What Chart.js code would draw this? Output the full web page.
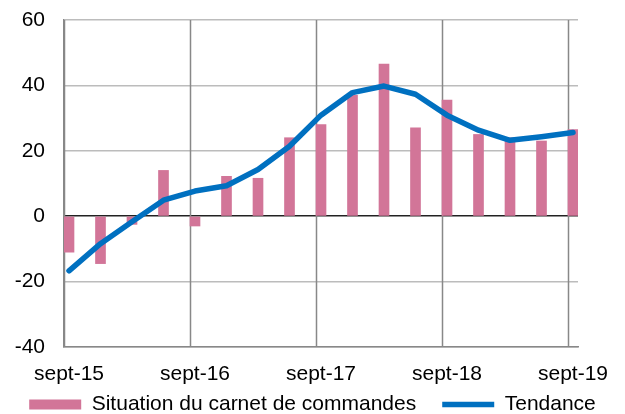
<!DOCTYPE html>
<html>
<head>
<meta charset="utf-8">
<script src="https://cdn.jsdelivr.net/npm/chart.js@4"></script>
<style>
  body { margin: 0; background: #fff; }
</style>
</head>
<body>
<canvas id="chart" width="625" height="414"></canvas>
<script>
// Quarterly points, sept-15 .. sept-19
const quarters = ['sept-15', 'déc-15', 'mars-16', 'juin-16', 'sept-16', 'déc-16', 'mars-17', 'juin-17',
  'sept-17', 'déc-17', 'mars-18', 'juin-18', 'sept-18', 'déc-18', 'mars-19', 'juin-19', 'sept-19'];
const carnet = [-11, -14.5, -2.5, 14, -3, 12.2, 11.6, 24, 28, 37, 46.5, 27, 35.5, 25, 24, 23, 26.5];
const tendance = [-16.7, -8.4, -1.7, 4.9, 7.7, 9.3, 14.3, 21.4, 30.9, 37.8, 39.8, 37.3, 30.9, 26.3, 23.2, 24.3, 25.6];
const tickIdx = [0, 4, 8, 12, 16];
const yTicks = [-40, -20, 0, 20, 40, 60];

const PINK = '#D27598';
const BLUE = '#0070C0';
const FONT = { family: '"Liberation Sans", Arial, sans-serif', size: 21 };
const EDGE = 0.1587; // plot extends half a bar past first/last point
const LEGEND_PAD = 26;

// Year gridlines sit on the left edge of each September bar
const yearGrid = {
  id: 'yearGrid',
  beforeDatasetsDraw(chart) {
    const { ctx, chartArea, scales } = chart;
    ctx.save();
    ctx.strokeStyle = '#888';
    ctx.lineWidth = 1.5;
    tickIdx.forEach(i => {
      const x = Math.round(scales.x.getPixelForValue(i - EDGE)) + 0.5;
      ctx.beginPath();
      ctx.moveTo(x, chartArea.top);
      ctx.lineTo(x, chartArea.bottom);
      ctx.stroke();
    });
    ctx.restore();
  }
};

// Keep the legend's wide horizontal spacing but give it a short reserved strip
const legendStrip = {
  id: 'legendStrip',
  beforeLayout(chart) {
    const lg = chart.legend;
    if (!lg || lg._strip) return;
    const fit = lg.fit;
    lg.fit = function () { fit.call(this); this.height = 26; };
    lg._strip = true;
  },
  afterLayout(chart) {
    const lg = chart.legend;
    lg.top = 403 - LEGEND_PAD - 9;
    lg.bottom = chart.height;
    lg.height = lg.bottom - lg.top;
  }
};

const flatPad = axis => { axis.paddingTop = 0; axis.paddingBottom = 0; };

new Chart(document.getElementById('chart'), {
  data: {
    datasets: [
      {
        type: 'bar',
        label: 'Situation du carnet de commandes',
        data: carnet.map((v, i) => ({ x: i, y: v })),
        backgroundColor: PINK,
        borderWidth: 0,
        barThickness: 10,
        pointStyle: 'rect',
        order: 1
      },
      {
        type: 'line',
        label: 'Tendance',
        data: tendance.map((v, i) => ({ x: i, y: v })),
        borderColor: BLUE,
        backgroundColor: BLUE,
        borderWidth: 5.5,
        borderCapStyle: 'round',
        borderJoinStyle: 'round',
        pointRadius: 0,
        pointStyle: 'line',
        tension: 0,
        order: 0
      }
    ]
  },
  options: {
    responsive: false,
    animation: false,
    layout: { padding: { left: 0, top: 20, right: 0, bottom: 0 } },
    scales: {
      x: {
        type: 'linear',
        offset: false,
        min: -EDGE,
        max: quarters.length - 1 + EDGE,
        afterBuildTicks: axis => { axis.ticks = tickIdx.map(v => ({ value: v })); },
        afterFit: axis => { axis.height = 41; },
        ticks: {
          font: FONT,
          color: '#000',
          padding: 15,
          maxRotation: 0,
          autoSkip: false,
          callback: v => quarters[v]
        },
        grid: { display: false, offset: false, drawTicks: false },
        border: { color: '#888', width: 1.5 }
      },
      y: {
        min: -40,
        max: 60,
        afterBuildTicks: axis => { axis.ticks = yTicks.map(v => ({ value: v })); },
        afterFit: axis => { axis.width = 64; flatPad(axis); },
        ticks: { font: FONT, color: '#000', padding: 19 },
        grid: {
          drawTicks: false,
          color: c => c.tick.value === 0 ? '#222' : '#bcbcbc',
          lineWidth: 1.5
        },
        border: { color: '#888', width: 1.5 }
      },
      // empty right-hand axis, only reserves the margin right of the plot
      yr: {
        position: 'right',
        afterFit: axis => { axis.width = 47; flatPad(axis); },
        ticks: { display: false },
        grid: { display: false },
        border: { display: false }
      }
    },
    plugins: {
      tooltip: { enabled: false },
      legend: {
        position: 'bottom',
        labels: {
          font: FONT,
          color: '#000',
          usePointStyle: true,
          pointStyleWidth: 52,
          boxHeight: 10,
          padding: LEGEND_PAD,
          sort: (a, b) => a.datasetIndex - b.datasetIndex
        }
      }
    }
  },
  plugins: [yearGrid, legendStrip]
});
</script>
</body>
</html>
